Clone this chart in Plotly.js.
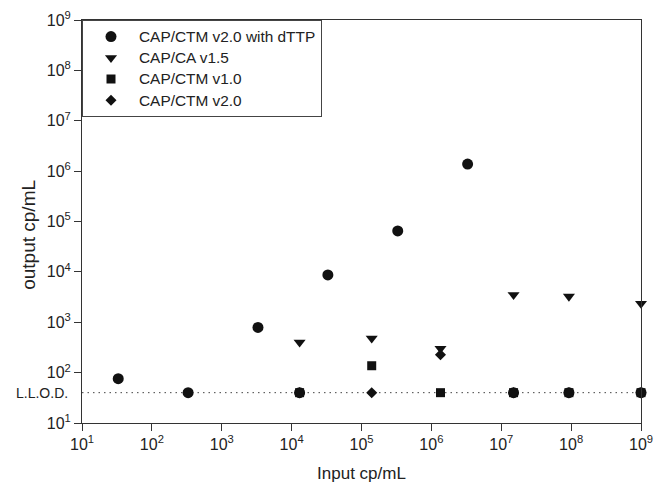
<!DOCTYPE html>
<html>
<head>
<meta charset="utf-8">
<script src="https://cdn.plot.ly/plotly-3.0.1.min.js"></script>
<style>
html,body{margin:0;padding:0;background:#fff;}
#chart{width:655px;height:483px;}
</style>
</head>
<body>
<div id="chart"></div>
<script>
// Series data
const seriesNames = ["CAP/CTM v2.0 with dTTP", "CAP/CA v1.5", "CAP/CTM v1.0", "CAP/CTM v2.0"];

const xDTTP = [33, 330, 3300, 33000, 330000, 3300000, 13000, 15000000, 93000000, 1000000000];
const yDTTP = [76, 40, 790, 8700, 65000, 1380000, 40, 40, 40, 40];

const xCA15 = [13000, 140000, 1350000, 15000000, 93000000, 1000000000];
const yCA15 = [400, 480, 300, 3500, 3250, 2350];

const xCTM10 = [13000, 140000, 1350000, 15000000, 93000000, 1000000000];
const yCTM10 = [40, 137, 40, 40, 40, 40];

const xCTM20 = [13000, 140000, 1350000, 15000000, 93000000, 1000000000];
const yCTM20 = [40, 40, 227, 40, 40, 40];

const llod = 40;
const llodLabel = "L.L.O.D.";
const xTitle = "Input cp/mL";
const yTitle = "output cp/mL";

const tickVals = [1e1, 1e2, 1e3, 1e4, 1e5, 1e6, 1e7, 1e8, 1e9];
const tickText = ["10<sup>1</sup>", "10<sup>2</sup>", "10<sup>3</sup>", "10<sup>4</sup>", "10<sup>5</sup>",
                  "10<sup>6</sup>", "10<sup>7</sup>", "10<sup>8</sup>", "10<sup>9</sup>"];

const FONT = "Arial, 'Liberation Sans', sans-serif";
const INK = "#111111";
const AXC = "#333333";

function mk(x, y, name, symbol, size) {
  return {
    type: "scatter", mode: "markers", x: x, y: y,
    name: '<span style="font-size:15.4px">' + name + '</span>',
    cliponaxis: false,
    marker: {symbol: symbol, size: size, color: INK, line: {width: 0}}
  };
}

const data = [
  mk(xDTTP, yDTTP, seriesNames[0], "circle", 11),
  mk(xCA15, yCA15, seriesNames[1], "triangle-down", 10.5),
  mk(xCTM10, yCTM10, seriesNames[2], "square", 9),
  mk(xCTM20, yCTM20, seriesNames[3], "diamond", 8.5)
];

const axisCommon = {
  type: "log",
  range: [1, 9],
  tickvals: tickVals,
  ticktext: tickText,
  ticks: "outside",
  ticklen: 7,
  tickwidth: 1,
  tickcolor: AXC,
  showline: true,
  linecolor: AXC,
  linewidth: 1,
  mirror: true,
  showgrid: false,
  zeroline: false,
  tickfont: {family: FONT, size: 16, color: "#222"}
};

const layout = {
  width: 655, height: 483,
  margin: {l: 82, r: 14, t: 20, b: 60, pad: 0},
  paper_bgcolor: "#fff", plot_bgcolor: "#fff",
  font: {family: FONT, color: "#222"},
  showlegend: true,
  legend: {
    x: 0, y: 1, xanchor: "left", yanchor: "top",
    bgcolor: "#fff", bordercolor: "#444", borderwidth: 1,
    font: {family: FONT, size: 14, color: "#222"},
    itemwidth: 46, tracegroupgap: 0
  },
  xaxis: Object.assign({}, axisCommon, {
    title: {text: xTitle, font: {family: FONT, size: 17, color: "#222"}}
  }),
  yaxis: Object.assign({}, axisCommon),
  shapes: [{
    type: "line", xref: "paper", yref: "y", x0: 0, x1: 1, y0: llod, y1: llod,
    line: {color: "#444", width: 1, dash: "1.5px,4px"}, layer: "below"
  }],
  annotations: [{
    xref: "paper", yref: "y", x: 0, y: Math.log10(llod), xanchor: "right", yanchor: "middle",
    xshift: -12, text: llodLabel, showarrow: false,
    font: {family: FONT, size: 14, color: "#222"}
  }, {
    xref: "paper", yref: "paper", x: 0, y: 0.467, xanchor: "center", yanchor: "middle",
    xshift: -53, textangle: -90, text: yTitle, showarrow: false,
    font: {family: FONT, size: 19, color: "#222"}
  }]
};

Plotly.newPlot("chart", data, layout, {displayModeBar: false, staticPlot: true});
</script>
</body>
</html>
